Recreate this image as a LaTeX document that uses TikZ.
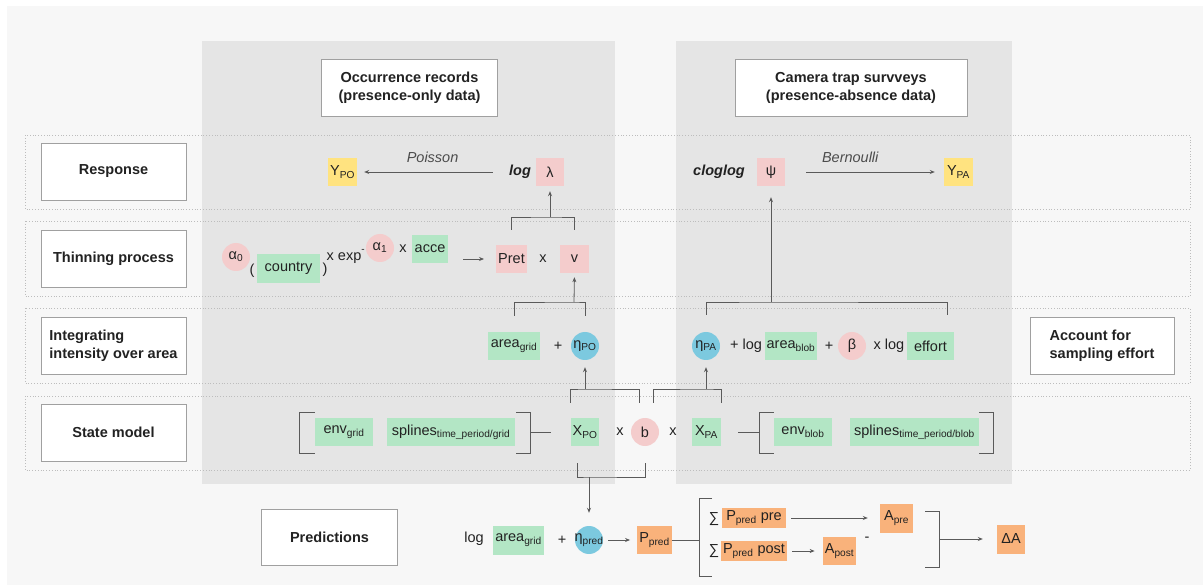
\documentclass[tikz,border=0pt]{standalone}
\usepackage{fontspec}
\setmainfont{Liberation Sans}
\usetikzlibrary{arrows.meta}

\definecolor{bgfill}{HTML}{F7F7F7}
\definecolor{panelfill}{HTML}{E5E5E5}
\definecolor{ylw}{HTML}{FFE380}
\definecolor{pnk}{HTML}{F4CCCC}
\definecolor{grn}{HTML}{B3E6C5}
\definecolor{blu}{HTML}{7CC9DF}
\definecolor{orng}{HTML}{F9B27B}
\definecolor{edge}{HTML}{A0A0A0}
\definecolor{ink}{HTML}{222222}
\definecolor{wirec}{HTML}{5A5A5A}

\tikzset{
  every node/.style={font=\fontsize{14.5}{18}\selectfont, text=ink, inner sep=1pt},
  rowlabel/.style={draw=edge, line width=0.8pt, fill=white, minimum width=145pt,
    minimum height=57pt, font=\fontsize{14.5}{18}\selectfont\bfseries},
  header/.style={rowlabel, align=center},
  band/.style={draw=edge!70, dotted, line width=0.8pt},
  tag/.style={minimum height=28pt, inner xsep=2pt, inner ysep=1pt},
  pinkbox/.style={tag, fill=pnk},
  greenbox/.style={tag, fill=grn},
  yellowbox/.style={tag, fill=ylw},
  orangebox/.style={tag, fill=orng},
  pinkdot/.style={circle, fill=pnk, minimum size=28pt, inner sep=0pt},
  bluedot/.style={circle, fill=blu, minimum size=28pt, inner sep=0pt},
  boldit/.style={font=\fontsize{14.5}{18}\selectfont\bfseries\itshape},
  distname/.style={font=\fontsize{14.5}{18}\selectfont\itshape, text=black!70},
  wire/.style={draw=wirec, line width=0.8pt},
  arr/.style={wire, -{Stealth[length=5pt,width=4pt]}},
}

\begin{document}
\begin{tikzpicture}[x=1pt, y=-1pt]
\useasboundingbox (0,0) rectangle (1203,585);

% Background and data panels
\fill[bgfill] (7,6) rectangle (1203,585);
\fill[panelfill] (202,41) rectangle (615,484);
\fill[panelfill] (676,41) rectangle (1012,484);

% Dotted row bands
\foreach \top/\bot in {135/209, 221/296, 308/383, 396/470}
  \draw[band] (25,\top) rectangle (1190,\bot);

% Headers
\node[header, minimum width=176pt] (occ) at (409.5,88) {Occurrence records\\(presence-only data)};
\node[header, minimum width=232pt] (cam) at (851,88) {Camera trap survveys\\(presence-absence data)};

% Row labels
\node[rowlabel] (resp) at (113.5,171.5) {Response};
\node[rowlabel] (thin) at (113.5,258.5) {Thinning process};
\node[rowlabel, align=left] (integ) at (113.5,345.5) {Integrating\\intensity over area};
\node[rowlabel] (state) at (113.5,432.5) {State model};
\node[rowlabel, minimum width=136pt, minimum height=56pt] (pred) at (329.5,537.5) {Predictions};
\node[rowlabel, minimum width=144pt, align=left] (acct) at (1102,345.5) {Account for\\sampling effort};

% Response
\node[yellowbox, minimum width=29pt] (ypo) at (342.5,172) {Y\textsubscript{PO}};
\node[boldit] (loglam) at (520,172) {log};
\node[pinkbox, minimum width=28pt] (lam) at (550,172) {λ};
\draw[arr, shorten <=15pt, shorten >=7pt] (loglam.west) -- node[midway, above=8pt, distname] {Poisson} (ypo.east);

\node[boldit] (clog) at (719,172) {cloglog};
\node[pinkbox, minimum width=28pt] (psi) at (771,172) {ψ};
\node[yellowbox, minimum width=29pt] (ypa) at (958.5,172) {Y\textsubscript{PA}};
\draw[arr, shorten <=21pt, shorten >=9pt] (psi.east) -- node[pos=0.41, above=8pt, distname] {Bernoulli} (ypa.west);

% Thinning process
\node[pinkdot] (a0) at (236,257) {α\textsubscript{0}};
\node (lpar) at (252,271) {(};
\node[greenbox, minimum width=63pt, minimum height=29pt] (country) at (288.5,268.5) {country};
\node (rpar) at (325,270) {)};
\node (xexp) at (344,258) {x exp};
\node[font=\fontsize{10}{12}\selectfont] (minus) at (363,251) {-};
\node[pinkdot] (a1) at (380,248) {α\textsubscript{1}};
\node (x1) at (403,249) {x};
\node[greenbox, minimum width=36pt] (acce) at (430,249) {acce};
\node[pinkbox, minimum width=29pt] (pret) at (511.5,259) {Pret};
\node (x2) at (543,259) {x};
\node[pinkbox, minimum width=29pt] (v) at (574.5,259) {v};
\draw[arr, shorten <=15pt, shorten >=12pt] (acce.east |- pret.west) -- (pret.west);

\coordinate (thinbar) at (550,217);
\draw[wire] ([yshift=15pt]pret.north) |- (thinbar) -| ([yshift=15pt]v.north);
\draw[arr, shorten >=5pt] (thinbar) -- (lam.south);

% Integrating intensity over area
\node[greenbox, minimum width=52pt] (areagrid) at (514,346) {area\textsubscript{grid}};
\node (plus1) at (558,346) {+};
\node[bluedot] (etapo) at (585,346) {η\textsubscript{PO}};
\node[bluedot] (etapa) at (706,346) {η\textsubscript{PA}};
\node (pluslog) at (746,346) {+ log};
\node[greenbox, minimum width=52pt] (areablob) at (791,346) {area\textsubscript{blob}};
\node (plus2) at (829,346) {+};
\node[pinkdot] (beta) at (852,346) {β};
\node (xlog) at (889,346) {x log};
\node[greenbox, minimum width=47pt] (effort) at (930.5,346) {effort};

\coordinate (intbar) at (574,302);
\draw[wire] ([yshift=16pt]areagrid.north) |- (intbar) -| ([yshift=16pt]etapo.north);
\draw[arr, shorten >=4pt] (intbar) -- (v.south);
\coordinate (pabar) at (771,302);
\draw[wire] ([yshift=17pt]etapa.north) |- (pabar) -| ([xshift=17pt,yshift=17pt]effort.north);
\draw[arr, shorten >=11pt] (pabar) -- (psi.south);

% State model
\node[greenbox, minimum width=58pt] (envgrid) at (344,432) {env\textsubscript{grid}};
\node[greenbox, minimum width=128pt] (splgrid) at (451,432) {splines\textsubscript{time\_period/grid}};
\node[greenbox, minimum width=28pt] (xpo) at (585,432) {X\textsubscript{PO}};
\node (x3) at (620,432) {x};
\node[pinkdot] (b) at (645,432) {b};
\node (x4) at (673,432) {x};
\node[greenbox, minimum width=29pt] (xpa) at (706.5,432) {X\textsubscript{PA}};
\node[greenbox, minimum width=58pt] (envblob) at (803,432) {env\textsubscript{blob}};
\node[greenbox, minimum width=129pt] (splblob) at (914.5,432) {splines\textsubscript{time\_period/blob}};

\draw[wire] ([yshift=20pt]envgrid.west) -- ++(-15,0) -- ++(0,41) -- ++(15,0);
\draw[wire] ([xshift=1pt,yshift=20pt]splgrid.east) -- ++(14,0) -- ++(0,41) -- ++(-14,0);
\draw[wire, shorten >=19pt] ([xshift=15pt]splgrid.east) -- (xpo.west);
\draw[wire, shorten <=17pt] (xpa.east) -- ([xshift=-14pt]envblob.west);
\draw[wire] ([yshift=20pt]envblob.west) -- ++(-14,0) -- ++(0,41) -- ++(14,0);
\draw[wire] ([yshift=20pt]splblob.east) -- ++(14,0) -- ++(0,41) -- ++(-14,0);

\coordinate (pobar) at (585,389);
\draw[wire] ([yshift=15pt]xpo.north west) |- (pobar) -| ([xshift=-6pt,yshift=15pt]b.north);
\draw[arr, shorten >=7pt] (pobar) -- (etapo.south);
\coordinate (blobbar) at (706,389);
\draw[wire] ([xshift=8pt,yshift=15pt]b.north) |- (blobbar) -| ([yshift=15pt]xpa.north east);
\draw[arr, shorten >=7pt] (blobbar) -- (etapa.south);

% Predictions
\node (logp) at (474,539) {log};
\node[greenbox, minimum width=51pt, minimum height=29pt] (areagrid2) at (518.5,540) {area\textsubscript{grid}};
\node (plus3) at (562,540) {+};
\node[bluedot, inner sep=-1.5pt] (etapred) at (589,540) {η\textsubscript{pred}};
\node[orangebox, minimum width=33pt] (ppred) at (654.5,540) {P\textsubscript{pred}};
\draw[arr, shorten <=5pt, shorten >=7pt] (etapred) -- (ppred);

\coordinate (predbar) at (589,477);
\draw[wire] ([xshift=7pt,yshift=-17pt]xpo.south west) |- (predbar) -| ([yshift=-17pt]b.south);
\draw[arr, shorten >=13pt] (predbar) -- (etapred.north);

\coordinate (sumfork) at (699,540);
\draw[wire] (ppred) -- (sumfork);
\draw[wire] ([xshift=13pt,yshift=42pt]sumfork) -| ([yshift=-36pt]sumfork) -- ++(13,0);

\node (sig1) at (714,519) {∑};
\node[orangebox, minimum width=64pt, minimum height=20pt] (ppre) at (754,518) {P\textsubscript{pred} pre};
\node[orangebox, minimum width=33pt, minimum height=29pt] (apre) at (896.5,518) {A\textsubscript{pre}};
\draw[arr, shorten <=5pt, shorten >=12pt] (ppre) -- (apre);

\node (sig2) at (714,551) {∑};
\node[orangebox, minimum width=64pt, minimum height=20pt] (ppost) at (754,551) {P\textsubscript{pred} post};
\node[orangebox, minimum width=33pt] (apost) at (839.5,551) {A\textsubscript{post}};
\draw[arr, shorten <=5pt, shorten >=8pt] (ppost) -- (apost);
\node (minus2) at (867,539) {-};

\coordinate (diffjoin) at (939,539);
\draw[wire] ([xshift=-14pt,yshift=28pt]diffjoin) -| ([yshift=-28pt]diffjoin) -- ++(-14,0);
\node[orangebox, minimum width=28pt, minimum height=29pt] (dA) at (1011,539) {ΔA};
\draw[arr, shorten >=14pt] (diffjoin) -- (dA.west);

\end{tikzpicture}
\end{document}
